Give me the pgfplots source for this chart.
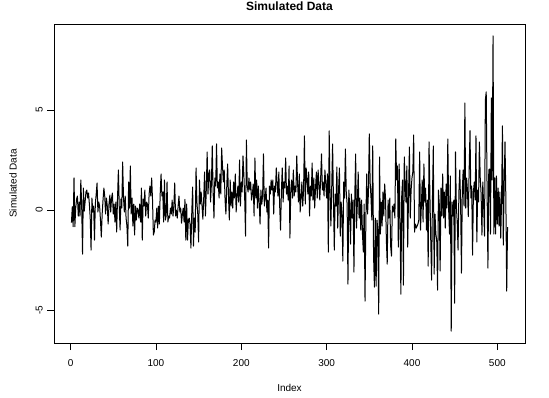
\documentclass[border=0pt]{standalone}
\usepackage{fontspec}
\setmainfont{Liberation Sans}
\usepackage{pgfplots}
\pgfplotsset{compat=1.18}
\usepackage{pgfplotstable}
\pgfplotstableread{
v
-0.63
0.17
-0.83
1.60
-0.83
0.10
0.55
0.70
-0.30
0.40
-0.30
1.50
0.20
-2.20
1.10
-0.05
0.40
0.90
1.00
0.60
0.85
0.30
-0.40
-2.00
0.60
-0.10
0.20
-1.50
0.30
0.80
1.35
-0.10
0.40
0.20
-0.50
-1.35
-0.20
0.50
1.10
0.70
-0.20
0.60
0.20
-0.70
0.30
0.75
-0.10
0.60
0.85
-0.20
0.30
-0.60
0.40
-1.10
0.60
2.00
0.20
-1.00
0.55
0.10
2.40
0.60
-0.10
0.70
-0.40
-0.80
-1.80
1.40
0.10
2.20
-0.20
0.60
-0.80
0.30
-1.25
0.20
-0.50
0.10
0.00
-0.40
0.30
-0.60
1.10
-1.50
0.55
0.20
1.00
-0.30
0.40
0.30
-0.40
0.80
1.20
0.70
1.60
0.50
-1.25
-1.10
-0.50
-0.60
0.10
-0.90
0.20
-0.70
0.80
1.80
0.70
0.90
-0.60
1.50
-0.50
-0.30
1.40
-0.60
-0.30
-0.40
0.10
-0.20
0.50
-0.30
0.20
1.35
-0.30
0.00
-0.40
0.20
0.70
-0.10
0.10
-0.66
-0.20
0.10
-0.60
0.53
-1.50
0.30
-1.50
-0.50
-0.40
-0.70
-1.90
-0.10
1.15
-1.80
-0.40
-1.10
2.10
0.40
-0.20
-1.60
1.50
0.30
0.90
0.20
-0.46
0.60
1.90
-0.30
1.00
2.90
0.80
1.80
2.00
0.40
1.30
3.20
0.90
-0.40
1.60
1.20
3.30
1.10
1.40
0.60
1.80
0.80
3.10
2.20
1.40
2.00
0.50
-0.20
1.20
2.30
0.70
-0.50
1.50
0.20
0.90
0.10
1.40
0.60
1.80
-0.10
0.70
1.20
0.40
2.50
0.20
1.40
0.90
2.70
1.80
0.60
-1.30
3.50
1.20
0.90
1.60
1.00
1.40
0.50
0.80
1.30
-0.30
2.60
0.60
1.50
0.10
1.20
0.40
-0.70
1.00
0.30
0.70
2.80
0.20
0.60
1.10
-0.10
0.50
-1.90
1.20
0.80
1.50
1.00
1.50
-0.20
1.20
0.90
2.10
1.30
0.70
1.90
0.20
-1.00
0.90
2.10
0.40
1.40
1.10
2.60
0.80
1.20
0.50
2.20
-1.40
1.00
1.50
0.60
2.00
0.70
1.20
0.90
2.70
1.30
0.40
1.80
-0.10
0.60
1.40
0.20
1.00
3.70
0.30
2.10
1.60
0.80
1.90
-0.30
1.20
0.70
2.35
0.50
1.60
0.10
1.10
1.90
0.60
2.00
1.30
0.50
1.60
2.80
1.00
1.40
0.70
2.00
1.30
0.60
1.80
-2.10
3.95
0.90
-0.80
1.20
3.30
0.50
-2.00
0.80
0.20
2.15
-0.90
1.00
2.10
-1.30
0.40
-0.20
-2.55
1.40
0.60
3.05
0.90
0.30
-3.70
1.00
0.20
-1.70
0.80
-0.40
0.50
-3.10
0.70
2.80
-0.90
0.30
1.90
-0.40
0.60
-1.00
0.50
-1.20
-2.10
0.30
-4.55
-0.40
1.80
-0.20
0.90
3.80
1.40
0.60
-0.50
3.20
-2.30
-3.85
-0.40
-3.80
-0.50
-1.00
-5.20
2.65
-1.20
0.40
-0.80
0.90
-0.30
1.30
0.60
-1.50
-2.70
0.50
-0.40
0.60
-1.80
-2.30
0.20
-0.10
0.30
-0.40
3.55
1.50
2.20
-1.85
2.30
-0.50
-4.20
0.70
1.50
-3.75
2.65
1.30
0.40
2.20
-1.85
0.80
3.15
-0.40
1.00
1.60
1.90
3.75
-1.10
-0.70
-0.90
-0.80
-0.70
-0.50
2.90
-1.00
0.20
1.50
-0.60
2.30
0.40
1.10
-1.00
0.50
-2.80
3.40
0.80
-1.50
-3.50
0.60
3.20
-3.20
-0.20
-1.20
-1.50
-4.00
1.00
0.30
-3.05
1.10
-0.30
1.80
-0.40
0.90
-0.90
1.30
0.10
3.55
0.00
-1.20
1.70
-6.05
0.40
-0.30
0.50
-4.65
2.90
0.20
-0.60
-2.00
0.90
2.00
0.30
-3.15
1.00
2.00
0.20
5.35
0.10
1.60
1.00
-0.33
2.00
3.97
0.60
1.20
-2.25
0.90
1.40
0.50
3.70
-1.60
1.00
0.40
3.40
1.60
0.80
-1.25
1.40
0.20
-1.30
5.50
5.90
1.00
-2.90
2.00
2.05
-1.20
5.60
1.50
8.70
-1.20
1.60
-1.20
1.70
-0.70
1.10
-0.80
0.90
-1.40
0.50
4.20
-1.75
1.20
3.40
0.60
-4.05
-0.85
}\simdata
\begin{document}
\begin{tikzpicture}
\useasboundingbox (-54bp,-55bp) rectangle (495bp,343bp);
\begin{axis}[
  at={(0,0)}, anchor=south west,
  scale only axis, width=471bp, height=319bp,
  xmin=-19.44, xmax=532.44, ymin=-6.64, ymax=9.29,
  axis line style={line width=0.8bp, black},
  every tick/.style={line width=0.8bp, black},
  tick align=outside, xtick pos=bottom, ytick pos=left,
  major tick length=7bp,
  xtick={0,100,200,300,400,500},
  ytick={-5,0,5},
  font=\fontsize{10bp}{12bp}\selectfont,
  /pgf/number format/assume math mode=true,
  xticklabel style={inner sep=0pt, anchor=north, yshift=-9bp},
  yticklabel style={inner sep=0pt, rotate=90, anchor=south, yshift=4bp},
  title={Simulated Data},
  title style={at={(axis description cs:0.5,1.0376)}, anchor=center, font=\fontsize{12bp}{14bp}\selectfont\bfseries},
  xlabel={Index},
  xlabel style={at={(axis description cs:0.5,-0.141)}, anchor=center},
  ylabel={Simulated Data},
  ylabel style={at={(axis description cs:-0.087,0.5)}, anchor=center},
]
\addplot[black, line width=1bp, mark=none, line join=round] table[x expr=\coordindex+1, y=v] {\simdata};
\end{axis}
\end{tikzpicture}
\end{document}
